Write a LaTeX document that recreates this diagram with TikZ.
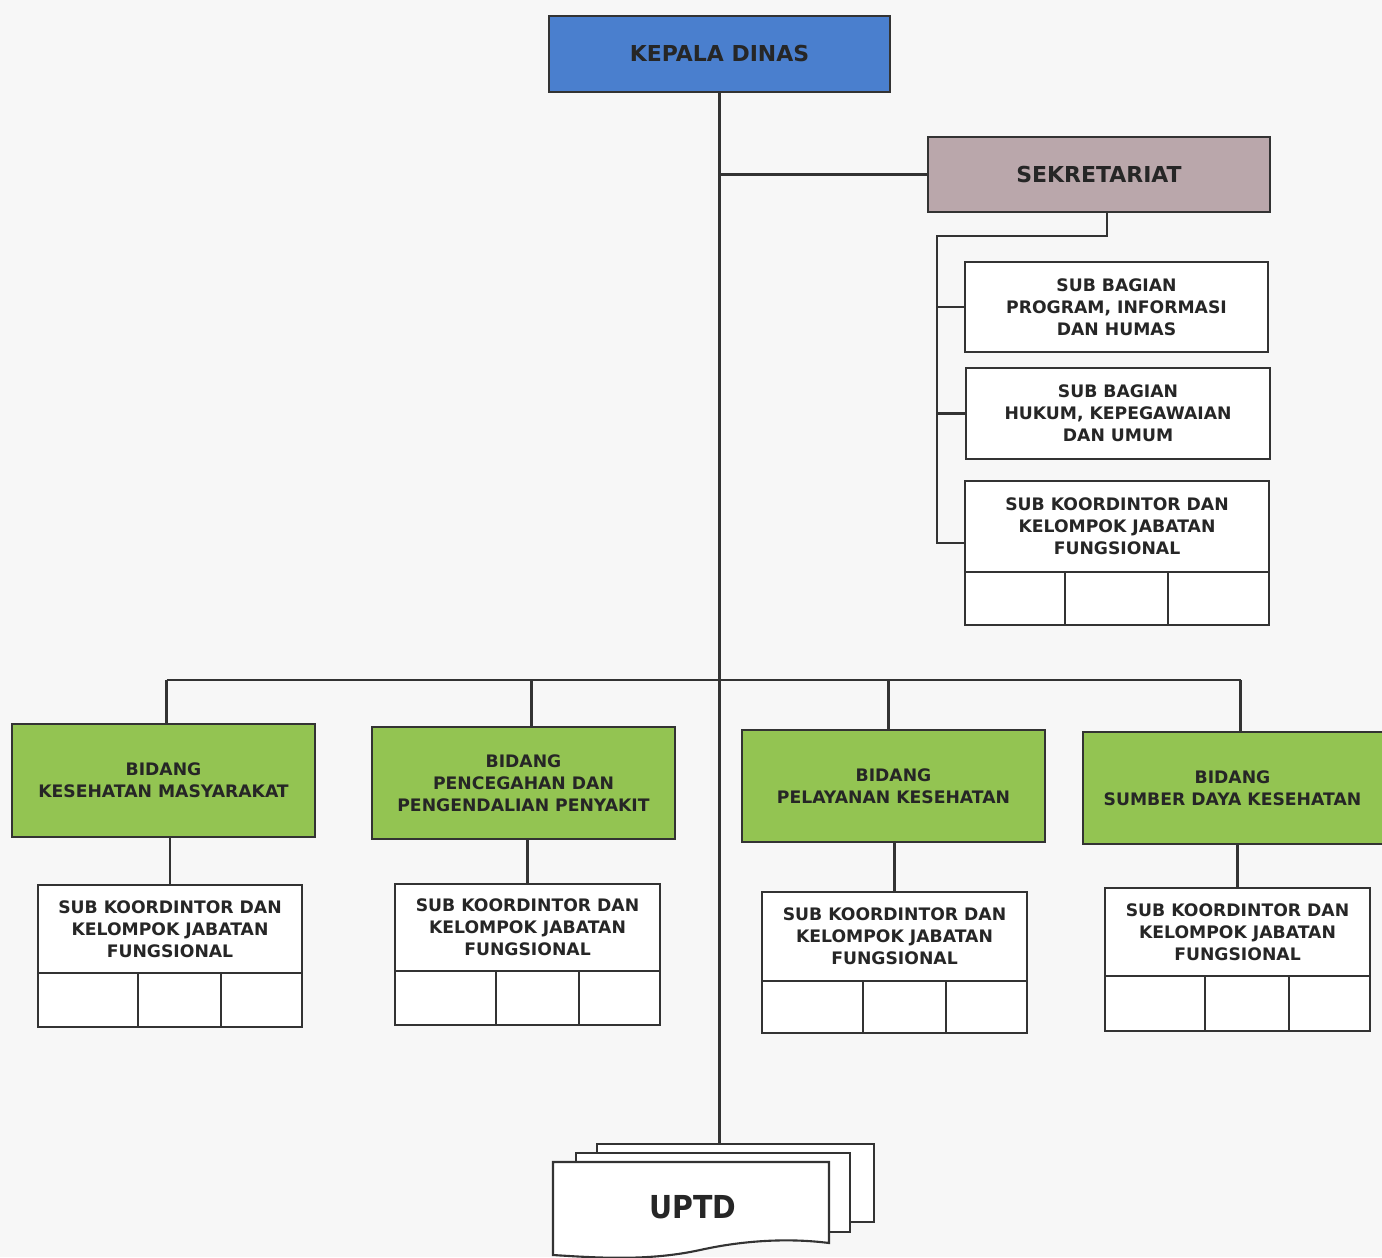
\documentclass[tikz,border=0pt]{standalone}
\usepackage{fontspec}
\usetikzlibrary{calc}
\setmainfont{DejaVu Sans}
\newfontfamily\condfont{DejaVu Sans Condensed}
\begin{document}
\begin{tikzpicture}[x=0.02cm,y=-0.02cm,
  box/.style={draw=black!80, line width=1.2pt, inner sep=0pt, align=center,
    font=\bfseries\fontsize{9.8}{12.6}\selectfont, text=black!85},
  bluebox/.style={box, fill=kdblue, font=\bfseries\fontsize{12.5}{15}\selectfont},
  sekbox/.style={box, fill=sekmauve, font=\bfseries\fontsize{12.5}{15}\selectfont},
  greenbox/.style={box, fill=bidgreen},
  whitebox/.style={box, fill=white},
  cell/.style={box, fill=white},
  page/.style={draw=black!80, line width=1.2pt, fill=white},
  link/.style={draw=black!80, line width=1.2pt}]
\definecolor{kdblue}{RGB}{74,127,206}
\definecolor{sekmauve}{RGB}{186,167,171}
\definecolor{bidgreen}{RGB}{147,196,82}
\newcommand{\bx}[7]{%
  \pgfmathsetmacro\cxx{(#2+#4)/2}\pgfmathsetmacro\cyy{(#3+#5)/2}%
  \pgfmathsetmacro\ww{(#4-#2)*0.02}\pgfmathsetmacro\hh{(#5-#3)*0.02}%
  \node[#6, minimum width=\ww cm, minimum height=\hh cm] (#1) at (\cxx,\cyy) {#7};}
\useasboundingbox[fill=black!3] (0,0) rectangle (1382,1257);

% top
\bx{kd}{549}{16}{890}{92}{bluebox}{KEPALA DINAS}
\bx{sek}{928}{137}{1270}{212}{sekbox}{SEKRETARIAT}
\bx{sb1}{965}{262}{1268}{352}{whitebox}{SUB BAGIAN\\PROGRAM, INFORMASI\\DAN HUMAS}
\bx{sb2}{966}{368}{1270}{459}{whitebox}{SUB BAGIAN\\HUKUM, KEPEGAWAIAN\\DAN UMUM}
\bx{sk0t}{965}{481}{1269}{572}{whitebox}{SUB KOORDINTOR DAN\\KELOMPOK JABATAN\\FUNGSIONAL}
\bx{sk0a}{965}{572}{1065}{625}{cell}{}
\bx{sk0b}{1065}{572}{1168}{625}{cell}{}
\bx{sk0c}{1168}{572}{1269}{625}{cell}{}

% bidang
\bx{b1}{12}{724}{315}{837}{greenbox}{BIDANG\\KESEHATAN MASYARAKAT}
\bx{b2}{372}{727}{675}{839}{greenbox}{BIDANG\\PENCEGAHAN DAN\\PENGENDALIAN PENYAKIT}
\bx{b3}{742}{730}{1045}{842}{greenbox}{BIDANG\\PELAYANAN KESEHATAN}
\bx{b4}{1083}{732}{1390}{844}{greenbox}{\hspace*{-0.16cm}BIDANG\\\hspace*{-0.16cm}SUMBER DAYA KESEHATAN}

% sub koordinator under bidang
\bx{sk1t}{38}{885}{302}{973}{whitebox}{SUB KOORDINTOR DAN\\KELOMPOK JABATAN\\FUNGSIONAL}
\bx{sk1a}{38}{973}{138}{1027}{cell}{}
\bx{sk1b}{138}{973}{221}{1027}{cell}{}
\bx{sk1c}{221}{973}{302}{1027}{cell}{}
\bx{sk2t}{395}{884}{660}{971}{whitebox}{SUB KOORDINTOR DAN\\KELOMPOK JABATAN\\FUNGSIONAL}
\bx{sk2a}{395}{971}{496}{1025}{cell}{}
\bx{sk2b}{496}{971}{579}{1025}{cell}{}
\bx{sk2c}{579}{971}{660}{1025}{cell}{}
\bx{sk3t}{762}{892}{1027}{981}{whitebox}{SUB KOORDINTOR DAN\\KELOMPOK JABATAN\\FUNGSIONAL}
\bx{sk3a}{762}{981}{863}{1033}{cell}{}
\bx{sk3b}{863}{981}{946}{1033}{cell}{}
\bx{sk3c}{946}{981}{1027}{1033}{cell}{}
\bx{sk4t}{1105}{888}{1370}{976}{whitebox}{SUB KOORDINTOR DAN\\KELOMPOK JABATAN\\FUNGSIONAL}
\bx{sk4a}{1105}{976}{1205}{1031}{cell}{}
\bx{sk4b}{1205}{976}{1289}{1031}{cell}{}
\bx{sk4c}{1289}{976}{1370}{1031}{cell}{}

% UPTD multi-document
\bx{pg3}{597}{1144}{874}{1222}{page}{}
\bx{pg2}{576}{1153}{850}{1232}{page}{}
\path[page] (553,1162) -- (829,1162) -- (829,1243)
  .. controls (790,1238) and (745,1240) .. (700,1250)
  .. controls (650,1261) and (600,1258) .. (553,1255) -- cycle;
\node[font=\condfont\bfseries\fontsize{18}{22}\selectfont, text=black!85] (uptd) at (693,1207) {UPTD};

% connectors
\draw[link] (kd.south) -- (kd.south |- pg3.north);
\draw[link] (kd.south |- sek.west) -- (sek.west);
\coordinate (spine) at (937,236);
\coordinate (spineend) at (937,543);
\draw[link] ($(sek.south)+(8,0)$) |- (spine) -- (spineend) -- (sk0t.west |- spineend);
\draw[link] (spine |- sb1.west) -- (sb1.west);
\draw[link] (spine |- sb2.west) -- (sb2.west);
\coordinate (bus) at (0,680);
\coordinate (d1) at ($(b1.north)+(3,0)$);
\coordinate (d2) at ($(b2.north)+(8,0)$);
\coordinate (d3) at ($(b3.north)+(-5,0)$);
\coordinate (d4) at ($(b4.north)+(4,0)$);
\draw[link] (d1 |- bus) -- (d4 |- bus);
\foreach \d in {d1,d2,d3,d4} \draw[link] (\d |- bus) -- (\d);
\draw[link] (sk1t.north |- b1.south) -- (sk1t.north);
\draw[link] (sk2t.north |- b2.south) -- (sk2t.north);
\draw[link] (sk3t.north |- b3.south) -- (sk3t.north);
\draw[link] (sk4t.north |- b4.south) -- (sk4t.north);
\end{tikzpicture}
\end{document}
